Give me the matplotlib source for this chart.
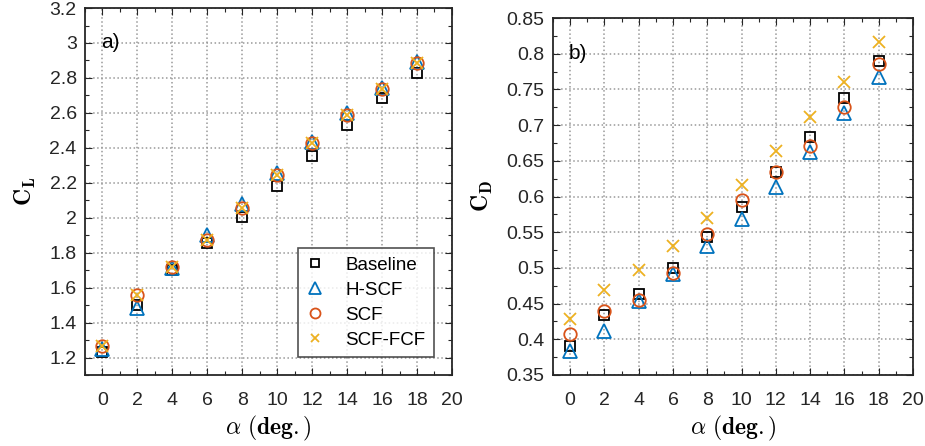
import matplotlib.pyplot as plt
from matplotlib.ticker import MultipleLocator
import numpy as np

plt.rcParams['font.family'] = ['Liberation Sans', 'DejaVu Sans']
plt.rcParams['mathtext.fontset'] = 'cm'

# angle of attack (deg)
alpha = [0, 2, 4, 6, 8, 10, 12, 14, 16, 18]

# lift coefficient
cl_baseline = [1.229, 1.503, 1.70, 1.857, 2.007, 2.18, 2.354, 2.53, 2.686, 2.83]
cl_hscf = [1.246, 1.486, 1.71, 1.90, 2.08, 2.255, 2.435, 2.60, 2.745, 2.89]
cl_scf = [1.265, 1.56, 1.72, 1.874, 2.055, 2.246, 2.43, 2.59, 2.737, 2.886]
cl_scffcf = [1.265, 1.56, 1.72, 1.874, 2.055, 2.246, 2.43, 2.59, 2.737, 2.886]

# drag coefficient
cd_baseline = [0.390, 0.434, 0.463, 0.500, 0.543, 0.586, 0.634, 0.684, 0.738, 0.790]
cd_hscf = [0.384, 0.411, 0.453, 0.492, 0.531, 0.568, 0.614, 0.663, 0.717, 0.767]
cd_scf = [0.407, 0.439, 0.455, 0.493, 0.548, 0.595, 0.634, 0.671, 0.725, 0.786]
cd_scffcf = [0.428, 0.469, 0.497, 0.531, 0.570, 0.616, 0.664, 0.712, 0.760, 0.817]

labels = ['Baseline', 'H-SCF', 'SCF', 'SCF-FCF']
colors = ['black', '#0072BD', '#D95319', '#EDB120']
markers = ['s', '^', 'o', 'x']
sizes = [7, 10, 9, 8]

fig = plt.figure(figsize=(9.25, 4.46), dpi=100)
ax1 = fig.add_axes([0.0919, 0.1592, 0.3967, 0.8228])
ax2 = fig.add_axes([0.5978, 0.1592, 0.3892, 0.8004])


def draw(ax, series):
    for y, lab, c, m, s in zip(series, labels, colors, markers, sizes):
        if m == 'x':
            ax.plot(alpha, y, linestyle='none', marker=m, color=c, ms=s,
                    mew=1.3, label=lab)
        else:
            ax.plot(alpha, y, linestyle='none', marker=m, mfc='none',
                    mec=c, ms=s, mew=1.3, label=lab)
    ax.set_xlim(-1, 20)
    ax.set_xticks(np.arange(0, 21, 2))
    ax.xaxis.set_minor_locator(MultipleLocator(1))
    ax.grid(True, which='major', color='#999999', linestyle=':', linewidth=1.1)
    ax.tick_params(which='both', direction='in', top=True, right=True,
                   labelsize=14, colors='#262626')
    ax.tick_params(which='major', length=5, width=0.8)
    ax.tick_params(which='minor', length=3, width=0.8)
    ax.tick_params(axis='x', which='major', pad=12)
    ax.tick_params(axis='y', which='major', pad=6)
    for sp in ax.spines.values():
        sp.set_linewidth(1.3)
        sp.set_color('#262626')
    ax.set_xlabel(r'$\alpha\ (\mathbf{deg.})$', fontsize=17, labelpad=4)


draw(ax1, [cl_baseline, cl_hscf, cl_scf, cl_scffcf])
ax1.set_ylim(1.1, 3.2)
ax1.set_yticks(np.arange(1.2, 3.21, 0.2))
ax1.set_yticklabels(['1.2', '1.4', '1.6', '1.8', '2', '2.2', '2.4', '2.6', '2.8', '3', '3.2'])
ax1.yaxis.set_minor_locator(MultipleLocator(0.1))
ax1.set_ylabel(r'$\mathbf{C_L}$', fontsize=17, labelpad=8)
ax1.text(-0.1, 3.0, 'a)', fontsize=15, va='center', ha='left')
leg = ax1.legend(loc='lower right', fontsize=13.5, frameon=True, fancybox=False,
                 edgecolor='#262626', handlelength=1.0, handletextpad=1.1,
                 borderpad=0.45, labelspacing=0.42, borderaxespad=0,
                 markerscale=0.8, bbox_to_anchor=(0.951, 0.049))
leg.get_frame().set_linewidth(1.2)

draw(ax2, [cd_baseline, cd_hscf, cd_scf, cd_scffcf])
ax2.set_ylim(0.35, 0.85)
ax2.set_yticks(np.arange(0.35, 0.851, 0.05))
ax2.set_yticklabels(['0.35', '0.4', '0.45', '0.5', '0.55', '0.6', '0.65', '0.7', '0.75', '0.8', '0.85'])
ax2.yaxis.set_minor_locator(MultipleLocator(0.025))
ax2.set_ylabel(r'$\mathbf{C_D}$', fontsize=17, labelpad=8)
ax2.text(-0.1, 0.8, 'b)', fontsize=15, va='center', ha='left')

fig.savefig('out.png', dpi=100)
